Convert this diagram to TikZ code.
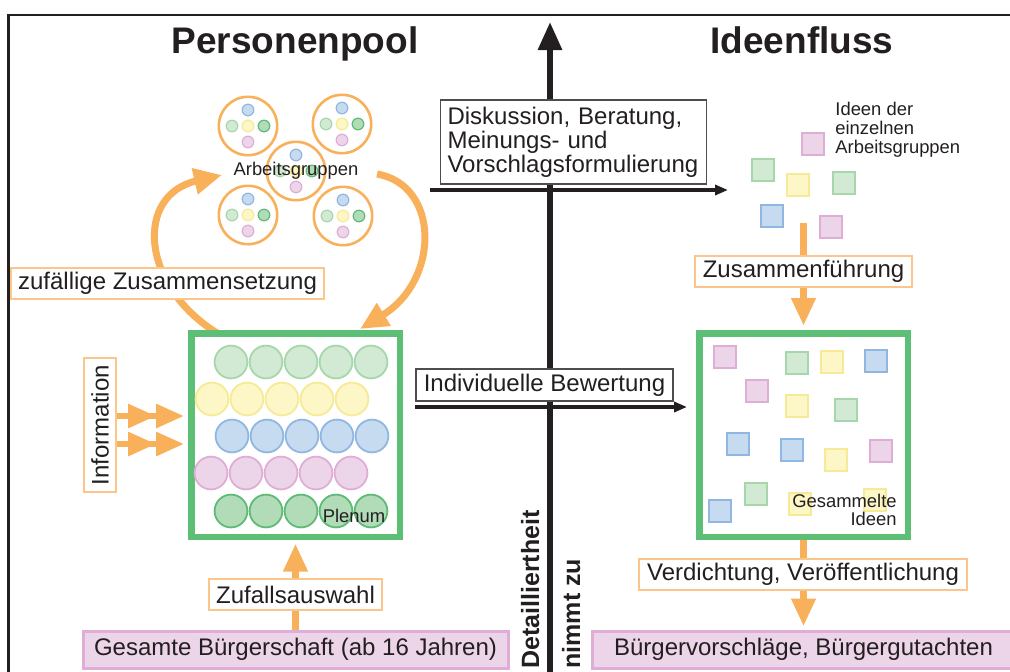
\documentclass[tikz,border=0pt]{standalone}
\usepackage{fontspec}
\setmainfont{Liberation Sans}
\usetikzlibrary{arrows.meta}
\pgfdeclarelayer{edgelayer}
\pgfsetlayers{edgelayer,main}

\definecolor{ink}{HTML}{231F20}
\definecolor{ora}{HTML}{F9B05A}
\definecolor{oraline}{HTML}{FBC68A}
\definecolor{grn}{HTML}{5DBE76}
\definecolor{boxgray}{HTML}{4D4D4D}
\definecolor{pinkfill}{HTML}{EDD5E9}
\definecolor{pinkline}{HTML}{DFADD5}
\definecolor{lgreenfill}{HTML}{D2EAD3}
\definecolor{lgreenline}{HTML}{A6D7AB}
\definecolor{dgreenfill}{HTML}{B2DCB8}
\definecolor{dgreenline}{HTML}{5FBA77}
\definecolor{yellowfill}{HTML}{FDF6C6}
\definecolor{yellowline}{HTML}{F7EA97}
\definecolor{bluefill}{HTML}{C6DAF0}
\definecolor{blueline}{HTML}{8FB7E1}

\tikzset{
  heading/.style={font=\fontsize{18.5}{22}\selectfont\bfseries, text=ink, inner sep=0pt},
  small/.style={font=\fontsize{9.2}{9.4}\selectfont, text=ink, inner sep=0pt},
  axislbl/.style={font=\fontsize{12.5}{13}\selectfont\bfseries, text=ink, inner sep=0pt},
  obox/.style={draw=oraline, line width=0.8pt, fill=white, text=ink,
    font=\fontsize{12}{12}\selectfont, inner sep=0pt},
  gbox/.style={draw=boxgray, line width=0.8pt, fill=white, text=ink,
    font=\fontsize{12}{12}\selectfont, inner sep=0pt},
  pbox/.style={draw=pinkline, line width=1.5pt, fill=pinkfill, text=ink,
    font=\fontsize{12}{12}\selectfont, inner sep=0pt, minimum height=18.5pt},
  pool/.style={draw=grn, line width=3.25pt, fill=white, minimum width=104.25pt,
    minimum height=101.75pt, inner sep=0pt},
  pers/.style={circle, draw=#1line, fill=#1fill, line width=0.9pt,
    minimum size=16.4pt, inner sep=0pt},
  member/.style={circle, draw=#1line, fill=#1fill, line width=0.6pt,
    minimum size=5.8pt, inner sep=0pt},
  ring/.style={circle, draw=ora, line width=1.3pt, minimum size=29.2pt, inner sep=0pt},
  idea/.style={draw=#1line, fill=#1fill, line width=1pt, minimum size=11.4pt, inner sep=0pt},
  oarrow/.style={draw=ora, line width=3.5pt, -{Triangle[length=14pt,width=11.5pt]}},
  carrow/.style={draw=ora, line width=3.5pt, -{Triangle[length=14pt,width=12.5pt]}},
  iarrow/.style={draw=ora, line width=3pt,
    -{Triangle[length=14pt,width=11.5pt,sep=0pt]Triangle[length=14pt,width=11.5pt]}},
  karrow/.style={draw=ink, line width=1.6pt, -{Triangle[length=6.5pt,width=5pt]}},
}

\begin{document}
\begin{tikzpicture}[x=0.5pt, y=-0.5pt]

  \useasboundingbox (0,0) rectangle (1010,671);
  \clip (0,0) rectangle (1010,671);

  % Frame
  \draw[line width=1.1pt, ink] (8.5,700) -- (8.5,15) -- (1050,15);

  % Titles
  \node[heading, anchor=base] (ttlpool) at (295,53) {Personenpool};
  \node[heading, anchor=base] (ttlflow) at (802,53) {Ideenfluss};

  % Working groups
  \foreach \gx/\gy [count=\g] in {248/126, 342/124, 248/215, 343/216, 296/171} {
    \node[ring] (grp\g) at (\gx,\gy) {};
    \node[member=blue]   at (\gx,\gy-16) {};
    \node[member=lgreen] at (\gx-16,\gy) {};
    \node[member=yellow] at (\gx,\gy) {};
    \node[member=dgreen] at (\gx+16,\gy) {};
    \node[member=pink]   at (\gx,\gy+16) {};
  }
  \node[small] (groups) at (296,171) {Arbeitsgruppen};

  % Plenum
  \node[pool] (plenum) at (295.5,435) {};
  \foreach \c/\x/\y in {lgreen/231/362, yellow/212/399, blue/232/436,
                        pink/211/473, dgreen/231/511} {
    \foreach \i in {0,...,4}
      \node[pers=\c] at (\x+35*\i,\y) {};
  }
  \node[small] (plenumlbl) at (354,516) {Plenum};

  % Left labels
  \node[obox, minimum width=156.5pt, minimum height=15.5pt] (zusetz) at (167.5,283.5)
    {zuf\"allige Zusammensetzung};
  \node[obox, rotate=90, minimum width=67pt, minimum height=16pt] (info) at (100,425)
    {Information};
  \node[obox, minimum width=86.5pt, minimum height=15.5pt] (auswahl) at (295.5,594.5)
    {Zufallsauswahl};
  \node[pbox, minimum width=212.5pt] (buerger) at (295.5,649.5)
    {Gesamte B\"urgerschaft (ab 16 Jahren)};

  % Ideas of the groups
  \foreach \c/\x/\y in {pink/813/144, lgreen/763/170, yellow/798/185,
                        lgreen/844/183, blue/772/216, pink/831/227}
    \node[idea=\c] at (\x,\y) {};
  \node[small, align=left, anchor=west] (ideaslbl) at (835,130)
    {Ideen der\\einzelnen\\Arbeitsgruppen};
  \coordinate (clusterbot) at (803.5,223);

  % Collected ideas
  \node[pool] (ideas) at (803.5,435) {};
  \foreach \c/\x/\y in {pink/725/357, lgreen/797/363, yellow/832/362, blue/876/361,
                        pink/757/391, yellow/797/406, lgreen/846/410, blue/738/444,
                        blue/792/450, yellow/836/460, pink/881/451, lgreen/756/494,
                        blue/720/511, yellow/800/504, yellow/875/500}
    \node[idea=\c] at (\x,\y) {};
  \node[small, align=right, anchor=east] (ideaslbl2) at (897,510)
    {Gesammelte\\Ideen};

  % Right labels
  \node[obox, minimum width=108.5pt, minimum height=15.5pt] (zusfuehr) at (803.5,271.5)
    {Zusammenf\"uhrung};
  \node[obox, minimum width=164pt, minimum height=15.5pt] (verdicht) at (803,574.5)
    {Verdichtung, Ver\"offentlichung};
  \node[pbox, minimum width=211.5pt] (vorschlag) at (803.5,649.5)
    {B\"urgervorschl\"age, B\"urgergutachten};

  % Axis labels
  \node[gbox, text width=126pt, align=left, minimum height=42pt, inner xsep=3.5pt]
    (disk) at (573.5,142) {Diskussion, Beratung,\\Meinungs- und\\Vorschlagsformulierung};
  \node[gbox, minimum width=128.5pt, minimum height=16pt] (indiv) at (544.5,385)
    {Individuelle Bewertung};
  \node[axislbl, rotate=90, anchor=base west] (detail) at (539,669) {Detailliertheit};
  \node[axislbl, rotate=90, anchor=base west] (zunahme) at (580,669) {nimmt zu};

  \coordinate (axbot) at (550,672);
  \coordinate (axtop) at (550,22);
  \coordinate (d1a) at (430,190);
  \coordinate (d1b) at (728,190);
  \coordinate (d2a) at (415,407);
  \coordinate (d2b) at (687,407);
  \coordinate (i1) at (116,416);
  \coordinate (i2) at (116,444);
  \coordinate (gin) at (222,175);
  \coordinate (gout) at (377,174);
  \coordinate (pin) at (217,333);
  \coordinate (pout) at (360,329);

  % Edges
  \begin{pgfonlayer}{edgelayer}
    \draw[ink, line width=3pt, -{Triangle[length=14pt,width=11.5pt]}] (axbot) -- (axtop);
    \draw[karrow] (d1a) -- (d1b);
    \draw[karrow] (d2a) -- (d2b);
    \draw[carrow] (pin) .. controls (140,285) and (135,195) .. (gin);
    \draw[carrow] (gout) .. controls (440,185) and (440,280) .. (pout);
    \draw[iarrow, shorten >=2pt] (i1) -- (i1 -| plenum.west);
    \draw[iarrow, shorten >=2pt] (i2) -- (i2 -| plenum.west);
    \draw[oarrow, shorten >=1.75pt] (buerger.north) -- (plenum.south);
    \draw[oarrow, shorten >=2pt] (clusterbot) -- (ideas.north);
    \draw[oarrow, shorten >=1.5pt] (ideas.south) -- (ideas.south |- vorschlag.north);
  \end{pgfonlayer}

\end{tikzpicture}
\end{document}
